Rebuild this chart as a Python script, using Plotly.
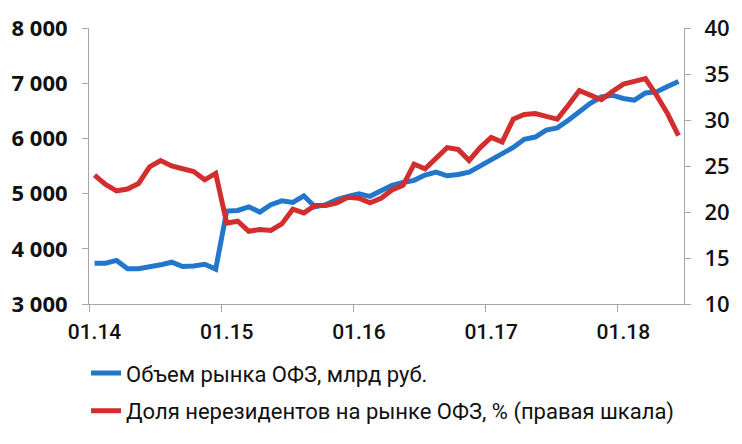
import plotly.graph_objects as go

# Monthly data, 01.2014 – 06.2018
ofz_volume = [3740, 3740, 3790, 3640, 3640, 3670, 3710, 3757, 3680, 3690, 3720, 3632,
              4684, 4695, 4760, 4665, 4800, 4870, 4840, 4960, 4760, 4800, 4890, 4950,
              4995, 4950, 5050, 5150, 5200, 5240, 5335, 5390, 5323, 5345, 5390, 5500,
              5617, 5718, 5836, 5985, 6025, 6150, 6190, 6328, 6490, 6635, 6754, 6783,
              6723, 6693, 6824, 6842, 6942, 7030]
nonres_share = [24.0, 23.0, 22.3, 22.5, 23.1, 24.9, 25.6, 25.0, 24.7, 24.4, 23.5, 24.2,
                18.8, 19.0, 17.9, 18.1, 18.0, 18.7, 20.3, 19.9, 20.7, 20.7, 21.0, 21.6,
                21.5, 21.0, 21.5, 22.4, 22.9, 25.2, 24.7, 25.9, 27.0, 26.8, 25.6, 27.0,
                28.1, 27.6, 30.1, 30.6, 30.7, 30.4, 30.1, 31.6, 33.2, 32.7, 32.2, 33.1,
                33.9, 34.2, 34.5, 32.7, 30.7, 28.3]
year_labels = ["01.14", "01.15", "01.16", "01.17", "01.18"]
series_names = ["Объем рынка ОФЗ, млрд руб.",
                "Доля нерезидентов на рынке ОФЗ, % (правая шкала)"]

x = list(range(len(ofz_volume)))
blue = "#2277CC"
red = "#D22E2E"
axis_grey = "#A6A6A6"
text_font = "Roboto"

fig = go.Figure()
fig.add_trace(go.Scatter(x=x, y=ofz_volume, mode="lines", name=series_names[0],
                         legendgroup="a",
                         line=dict(color=blue, width=5), yaxis="y"))
fig.add_trace(go.Scatter(x=x, y=nonres_share, mode="lines", name=series_names[1],
                         legendgroup="b",
                         line=dict(color=red, width=5), yaxis="y2"))

n = len(ofz_volume)
fig.update_layout(
    width=742, height=444,
    margin=dict(l=86, r=58, t=23, b=139),
    paper_bgcolor="white", plot_bgcolor="white",
    separators=", ",
    showlegend=True,
    legend=dict(x=-0.005, y=-0.175, xanchor="left", yanchor="top",
                font=dict(family=text_font, size=22, color="#111111"),
                traceorder="grouped", tracegroupgap=6, itemwidth=30,
                bgcolor="rgba(0,0,0,0)"),
    xaxis=dict(range=[-0.5, n - 0.5], showgrid=False, zeroline=False,
               showline=True, linecolor=axis_grey, linewidth=1,
               tickmode="array", tickvals=[i * 12 for i in range(len(year_labels))],
               ticktext=year_labels, ticks="", ticklen=0, ticklabelstandoff=9,
               minor=dict(tick0=-0.5, dtick=12, ticks="outside", ticklen=7,
                          tickcolor=axis_grey, tickwidth=1),
               tickfont=dict(family=text_font, size=21, color="#111111", weight=500)),
    yaxis=dict(range=[3000, 8000], dtick=1000, tickformat=",d",
               showgrid=False, zeroline=False, showline=True,
               linecolor=axis_grey, linewidth=1, ticks="outside", ticklen=6,
               tickcolor=axis_grey, ticklabelstandoff=10,
               tickfont=dict(family="Open Sans", size=22, color="#111111", weight=700)),
    yaxis2=dict(range=[10, 40], dtick=5, overlaying="y", side="right",
                showgrid=False, zeroline=False, showline=True,
                linecolor=axis_grey, linewidth=1, ticks="outside", ticklen=6,
                tickcolor=axis_grey, ticklabelstandoff=9,
                tickfont=dict(family="Open Sans", size=22, color="#111111", weight=600)),
)

fig.write_html("out.html")
